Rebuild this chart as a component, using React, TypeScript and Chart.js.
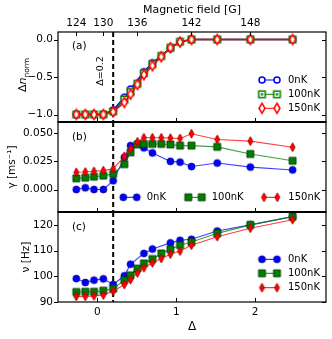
import React, { useEffect, useRef } from 'react';
import { Chart, registerables } from 'chart.js';

Chart.register(...registerables);

const FONT = 'DejaVu Sans';
const W = 332;
const H = 339;

// ---------- data ----------
// Δ positions of the measurements
const deltaAll = [-0.268, -0.154, -0.044, 0.075, 0.2, 0.342, 0.42, 0.507, 0.59, 0.698, 0.81, 0.926, 1.048, 1.193, 1.52, 1.94, 2.476];
const deltaBlue = [-0.268, -0.154, -0.044, 0.075, 0.2, 0.342, 0.42, 0.59, 0.698, 0.926, 1.048, 1.193, 1.52, 1.94, 2.476];

// top axis (magnetic field)
const fieldTickLabels = ['124', '130', '136', '142', '148'];
const fieldTickDelta = [-0.268, 0.075, 0.507, 1.193, 1.94];

// bottom axis (Δ)
const deltaTicks = [0, 1, 2];
const deltaTickLabels = ['0', '1', '2'];
const X_MIN = -0.5;
const X_MAX = 2.9;

const dashDelta = 0.2;
const dashLabel = 'Δ=0.2';
const seriesNames = ['0nK', '100nK', '150nK'];

// panel (a) Δn_norm
const dnBlue = [-1.0, -1.0, -1.0, -1.0, -0.94, -0.77, -0.66, -0.43, -0.31, -0.12, -0.03, 0, 0, 0, 0];
const dnGreen = [-1.0, -1.0, -1.0, -1.0, -0.96, -0.8, -0.7, -0.59, -0.45, -0.33, -0.22, -0.11, -0.03, 0, 0, 0, 0];
const dnRed = [-1.0, -1.0, -1.0, -1.0, -0.965, -0.84, -0.73, -0.6, -0.47, -0.35, -0.23, -0.11, -0.035, 0, 0, 0, 0];
const dnRedErr = [0.03, 0.03, 0.03, 0.03, 0.03, 0.03, 0.03, 0.03, 0.03, 0.03, 0.03, 0.03, 0.03, 0.03, 0.03, 0.03, 0.03];
const yTicksA = [-1.0, -0.5, 0.0];
const yTickLabelsA = ['−1.0', '−0.5', '0.0'];

// panel (b) γ
const gBlue = [0.0, 0.0015, 0.0, 0.0, 0.0078, 0.0285, 0.039, 0.037, 0.0325, 0.025, 0.0243, 0.0204, 0.0235, 0.0199, 0.0174];
const gGreen = [0.0099, 0.0105, 0.0114, 0.0123, 0.0138, 0.0225, 0.033, 0.04, 0.0405, 0.0405, 0.0405, 0.04, 0.039, 0.039, 0.0379, 0.0316, 0.0255];
const gRed = [0.0153, 0.0156, 0.0162, 0.0168, 0.0183, 0.0295, 0.036, 0.0424, 0.046, 0.046, 0.046, 0.0457, 0.0454, 0.0496, 0.0445, 0.043, 0.0376];
const gRedErr = [0.003, 0.003, 0.003, 0.003, 0.003, 0.003, 0.003, 0.003, 0.003, 0.003, 0.003, 0.003, 0.003, 0.003, 0.003, 0.003, 0.003];
const yTicksB = [0.0, 0.025, 0.05];
const yTickLabelsB = ['0.000', '0.025', '0.050'];

// panel (c) ν
const nuBlue = [99.1, 97.6, 98.5, 99.0, 96.8, 100.2, 104.7, 108.9, 110.6, 113.0, 114.0, 114.4, 117.6, 120.0, 123.2];
const nuGreen = [93.9, 94.0, 94.0, 94.4, 95.2, 98.5, 100.4, 103.0, 105.0, 106.7, 108.9, 110.5, 112.1, 113.3, 116.7, 120.0, 123.2];
const nuRed = [92.2, 92.2, 92.4, 92.7, 94.2, 96.8, 98.7, 101.3, 103.3, 105.2, 106.9, 108.6, 109.8, 112.1, 115.4, 118.7, 122.0];
const nuRedErr = [1.2, 1.2, 1.2, 1.2, 1.2, 1.2, 1.2, 1.2, 1.2, 1.2, 1.2, 1.2, 1.2, 1.2, 1.2, 1.2, 1.2];
const yTicksC = [90, 100, 110, 120];
const yTickLabelsC = ['90', '100', '110', '120'];

// ---------- helpers ----------
const pts = (xs: number[], ys: number[]) => xs.map((x, i) => ({ x, y: ys[i] }));

function markerCanvas(kind: string, w: number, h: number, fill: string, stroke: string, lw: number, inner?: string) {
  const pad = Math.ceil(lw) + 1;
  const cw = Math.ceil(w + 2 * pad);
  const ch = Math.ceil(h + 2 * pad);
  const c = document.createElement('canvas');
  c.width = cw;
  c.height = ch;
  const g = c.getContext('2d')!;
  const cx = cw / 2;
  const cy = ch / 2;
  g.beginPath();
  if (kind === 'circle') g.arc(cx, cy, w / 2, 0, Math.PI * 2);
  else if (kind === 'square') g.rect(cx - w / 2, cy - h / 2, w, h);
  else {
    g.moveTo(cx, cy - h / 2);
    g.lineTo(cx + w / 2, cy);
    g.lineTo(cx, cy + h / 2);
    g.lineTo(cx - w / 2, cy);
    g.closePath();
  }
  g.fillStyle = fill;
  g.fill();
  g.lineWidth = lw;
  g.strokeStyle = stroke;
  g.stroke();
  if (inner) {
    g.fillStyle = inner;
    g.fillRect(cx - 1.2, cy - 1.2, 2.4, 2.4);
  }
  return c;
}

type LegendItem = { img: HTMLCanvasElement; color: string; label: string; x1: number; x2: number; tx: number; y: number };
type TitlePart = { t: string; font: string; dy: number };

type PanelCfg = {
  label: string;
  labelX: number;
  labelY: number;
  yTicks: number[];
  topTicks?: number[];
  thickTop: boolean;
  thickBottom: boolean;
  errors: { xs: number[]; ys: number[]; err: number[]; color: string }[];
  legend: LegendItem[];
  dashText?: boolean;
  yTitle?: { parts: TitlePart[]; cx: number };
};

function decor(p: PanelCfg) {
  return {
    id: 'decor',
    beforeDatasetsDraw(chart: any) {
      const { ctx, chartArea: a, scales } = chart;
      const xs = scales.x;
      const ys = scales.y;
      ctx.save();
      const dx = xs.getPixelForValue(dashDelta);
      ctx.setLineDash([5, 3]);
      ctx.lineWidth = 2;
      ctx.strokeStyle = '#000';
      ctx.beginPath();
      ctx.moveTo(dx, a.top);
      ctx.lineTo(dx, a.bottom);
      ctx.stroke();
      ctx.setLineDash([]);
      p.errors.forEach((e) => {
        ctx.strokeStyle = e.color;
        ctx.lineWidth = 1;
        e.xs.forEach((xv, i) => {
          const px = xs.getPixelForValue(xv);
          ctx.beginPath();
          ctx.moveTo(px, ys.getPixelForValue(e.ys[i] - e.err[i]));
          ctx.lineTo(px, ys.getPixelForValue(e.ys[i] + e.err[i]));
          ctx.stroke();
        });
      });
      ctx.restore();
    },
    afterDraw(chart: any) {
      const { ctx, chartArea: a, scales } = chart;
      const xs = scales.x;
      const ys = scales.y;
      ctx.save();
      ctx.strokeStyle = '#000';
      ctx.lineWidth = 1.2;
      ctx.strokeRect(a.left, a.top, a.right - a.left, a.bottom - a.top);
      ctx.lineWidth = 2;
      if (p.thickTop) {
        ctx.beginPath();
        ctx.moveTo(a.left, a.top);
        ctx.lineTo(a.right, a.top);
        ctx.stroke();
      }
      if (p.thickBottom) {
        ctx.beginPath();
        ctx.moveTo(a.left, a.bottom);
        ctx.lineTo(a.right, a.bottom);
        ctx.stroke();
      }
      const tl = 4;
      ctx.lineWidth = 1;
      p.yTicks.forEach((v) => {
        const py = Math.round(ys.getPixelForValue(v)) + 0.5;
        ctx.beginPath();
        ctx.moveTo(a.left - tl, py);
        ctx.lineTo(a.left, py);
        ctx.moveTo(a.right - tl, py);
        ctx.lineTo(a.right, py);
        ctx.stroke();
      });
      deltaTicks.forEach((v) => {
        const px = Math.round(xs.getPixelForValue(v)) + 0.5;
        ctx.beginPath();
        ctx.moveTo(px, a.bottom - tl);
        ctx.lineTo(px, a.bottom);
        ctx.stroke();
      });
      (p.topTicks || []).forEach((v) => {
        const px = Math.round(xs.getPixelForValue(v)) + 0.5;
        ctx.beginPath();
        ctx.moveTo(px, a.top);
        ctx.lineTo(px, a.top + tl);
        ctx.stroke();
      });
      ctx.fillStyle = '#000';
      ctx.font = `10.5px "${FONT}"`;
      ctx.textAlign = 'left';
      ctx.textBaseline = 'middle';
      ctx.fillText(p.label, p.labelX, p.labelY);
      ctx.font = `10px "${FONT}"`;
      p.legend.forEach((it) => {
        ctx.strokeStyle = it.color;
        ctx.lineWidth = 1;
        ctx.beginPath();
        ctx.moveTo(it.x1, it.y);
        ctx.lineTo(it.x2, it.y);
        ctx.stroke();
        [it.x1, it.x2].forEach((mx) => ctx.drawImage(it.img, mx - it.img.width / 2, it.y - it.img.height / 2));
        ctx.fillStyle = '#000';
        ctx.fillText(it.label, it.tx, it.y);
      });
      if (p.yTitle) {
        ctx.save();
        ctx.translate(p.yTitle.cx, (a.top + a.bottom) / 2 - 2);
        ctx.rotate(-Math.PI / 2);
        ctx.textBaseline = 'alphabetic';
        ctx.textAlign = 'left';
        let total = 0;
        p.yTitle.parts.forEach((pt) => {
          ctx.font = pt.font;
          total += ctx.measureText(pt.t).width;
        });
        let x = -total / 2;
        p.yTitle.parts.forEach((pt) => {
          ctx.font = pt.font;
          ctx.fillText(pt.t, x, 4 + pt.dy);
          x += ctx.measureText(pt.t).width;
        });
        ctx.restore();
      }
      if (p.dashText) {
        const dx = xs.getPixelForValue(dashDelta);
        ctx.translate(dx - 12.5, 71);
        ctx.rotate(-Math.PI / 2);
        ctx.textAlign = 'center';
        ctx.font = `9.5px "${FONT}"`;
        ctx.fillText(dashLabel, 0, 0);
      }
      ctx.restore();
    },
  };
}

function yScale(min: number, max: number, ticks: number[], labels: string[], title: string, titlePad: number) {
  return {
    type: 'linear',
    position: 'left',
    min,
    max,
    afterFit: (s: any) => {
      s.width = 58;
    },
    afterBuildTicks: (s: any) => {
      s.ticks = ticks.map((v) => ({ value: v }));
    },
    ticks: {
      autoSkip: false,
      padding: 5,
      color: '#000',
      font: { family: FONT, size: 10.5 },
      callback: (_v: any, i: number) => labels[i],
    },
    grid: { display: false, drawTicks: false },
    border: { display: false },
    title: {
      display: title !== '',
      text: title,
      color: '#000',
      font: { family: FONT, size: 10.5 },
      padding: { top: titlePad, bottom: 0 },
    },
  };
}

const hiddenX = { type: 'linear', position: 'bottom', min: X_MIN, max: X_MAX, display: false };

export default function App() {
  const refA = useRef<HTMLCanvasElement>(null);
  const refB = useRef<HTMLCanvasElement>(null);
  const refC = useRef<HTMLCanvasElement>(null);

  useEffect(() => {
    const blue = '#0000ff';
    const green = '#008000';
    const red = '#ff0000';
    const blueLine = 'rgba(0,0,255,0.75)';
    const greenLine = 'rgba(0,128,0,0.75)';
    const redLine = 'rgba(255,0,0,0.75)';

    const mA = [
      markerCanvas('circle', 6, 6, '#fff', blue, 1.5),
      markerCanvas('square', 6.5, 6.5, '#fff', green, 1.5, green),
      markerCanvas('diamond', 6, 10, '#fff', red, 1.5),
    ];
    const mF = [
      markerCanvas('circle', 7, 7, blue, '#0000a0', 0.8),
      markerCanvas('square', 7, 7, green, '#003300', 0.8),
      markerCanvas('diamond', 5, 9, red, '#990000', 0.8),
    ];

    const ds = (xs: number[], ys: number[], img: HTMLCanvasElement, line: string, lw: number, order: number) => ({
      data: pts(xs, ys),
      borderColor: line,
      borderWidth: lw,
      pointStyle: img,
      pointRadius: 4,
      tension: 0,
      order,
      xAxisID: 'x',
      yAxisID: 'y',
      clip: false,
    });

    const base = (padTop: number, padBottom: number) => ({
      animation: false,
      responsive: false,
      devicePixelRatio: 1,
      events: [],
      layout: { padding: { left: 0, right: 6, top: padTop, bottom: padBottom } },
      plugins: { legend: { display: false }, tooltip: { enabled: false } },
    });

    const legendRowsA = [80, 94.3, 108.3];
    const legendRowsC = [259.3, 273.3, 287.7];
    const legendColsB = [
      [123.3, 136.7, 146.7],
      [188.3, 201.7, 211.7],
      [264, 277.3, 288.3],
    ];
    const lines = [blue, green, red];

    const chartA = new Chart(refA.current!, {
      type: 'line',
      data: {
        datasets: [
          ds(deltaBlue, dnBlue, mA[0], blue, 1.5, 3),
          ds(deltaAll, dnGreen, mA[1], green, 1.5, 2),
          ds(deltaAll, dnRed, mA[2], red, 1.5, 1),
        ],
      },
      options: {
        ...base(0, H - 122),
        scales: {
          x: hiddenX,
          xTop: {
            type: 'linear',
            axis: 'x',
            position: 'top',
            min: X_MIN,
            max: X_MAX,
            afterFit: (s: any) => {
              s.height = 32;
            },
            afterBuildTicks: (s: any) => {
              s.ticks = fieldTickDelta.map((v) => ({ value: v }));
            },
            ticks: {
              autoSkip: false,
              maxRotation: 0,
              padding: 2.5,
              color: '#000',
              font: { family: FONT, size: 10.5 },
              callback: (_v: any, i: number) => fieldTickLabels[i],
            },
            grid: { display: false, drawTicks: false },
            border: { display: false },
            title: {
              display: true,
              text: 'Magnetic field [G]',
              color: '#000',
              font: { family: FONT, size: 11 },
              padding: { top: 3.4, bottom: 0 },
            },
          },
          y: yScale(-1.1, 0.1, yTicksA, yTickLabelsA, '', 0),
        },
      } as any,
      plugins: [
        decor({
          label: '(a)',
          labelX: 72,
          labelY: 46,
          yTicks: yTicksA,
          topTicks: fieldTickDelta,
          thickTop: false,
          thickBottom: true,
          errors: [{ xs: deltaAll, ys: dnRed, err: dnRedErr, color: red }],
          legend: seriesNames.map((n, i) => ({ img: mA[i], color: lines[i], label: n, x1: 262, x2: 277, tx: 288, y: legendRowsA[i] })),
          dashText: true,
          yTitle: {
            cx: 22,
            parts: [
              { t: 'Δ', font: `11px "${FONT}"`, dy: 0 },
              { t: 'n', font: `italic 11px "${FONT}"`, dy: 0 },
              { t: 'norm', font: `7.5px "${FONT}"`, dy: 3 },
            ],
          },
        }),
      ],
    } as any);

    const chartB = new Chart(refB.current!, {
      type: 'line',
      data: {
        datasets: [
          ds(deltaBlue, gBlue, mF[0], blueLine, 1.1, 3),
          ds(deltaAll, gGreen, mF[1], greenLine, 1.1, 2),
          ds(deltaAll, gRed, mF[2], redLine, 1.1, 1),
        ],
      },
      options: {
        ...base(122, H - 212),
        scales: {
          x: hiddenX,
          y: yScale(-0.02, 0.06, yTicksB, yTickLabelsB, 'γ [ms⁻¹]', 6.2),
        },
      } as any,
      plugins: [
        decor({
          label: '(b)',
          labelX: 72,
          labelY: 137,
          yTicks: yTicksB,
          thickTop: true,
          thickBottom: true,
          errors: [{ xs: deltaAll, ys: gRed, err: gRedErr, color: red }],
          legend: seriesNames.map((n, i) => ({ img: mF[i], color: lines[i], label: n, x1: legendColsB[i][0], x2: legendColsB[i][1], tx: legendColsB[i][2], y: 197.3 })),
        }),
      ],
    } as any);

    const chartC = new Chart(refC.current!, {
      type: 'line',
      data: {
        datasets: [
          ds(deltaBlue, nuBlue, mF[0], blueLine, 1.1, 3),
          ds(deltaAll, nuGreen, mF[1], greenLine, 1.1, 2),
          ds(deltaAll, nuRed, mF[2], redLine, 1.1, 1),
        ],
      },
      options: {
        ...base(212, 0),
        scales: {
          x: {
            type: 'linear',
            position: 'bottom',
            min: X_MIN,
            max: X_MAX,
            afterFit: (s: any) => {
              s.height = H - 302;
            },
            afterBuildTicks: (s: any) => {
              s.ticks = deltaTicks.map((v) => ({ value: v }));
            },
            ticks: {
              autoSkip: false,
              maxRotation: 0,
              padding: 3.7,
              color: '#000',
              font: { family: FONT, size: 10.5 },
              callback: (_v: any, i: number) => deltaTickLabels[i],
            },
            grid: { display: false, drawTicks: false },
            border: { display: false },
            title: {
              display: true,
              text: 'Δ',
              color: '#000',
              font: { family: FONT, size: 12 },
              padding: { top: 0, bottom: 5 },
            },
          },
          y: yScale(90, 125, yTicksC, yTickLabelsC, 'ν [Hz]', 19.7),
        },
      } as any,
      plugins: [
        decor({
          label: '(c)',
          labelX: 72,
          labelY: 227,
          yTicks: yTicksC,
          thickTop: true,
          thickBottom: false,
          errors: [{ xs: deltaAll, ys: nuRed, err: nuRedErr, color: red }],
          legend: seriesNames.map((n, i) => ({ img: mF[i], color: lines[i], label: n, x1: 262, x2: 277, tx: 288, y: legendRowsC[i] })),
        }),
      ],
    } as any);

    return () => {
      chartA.destroy();
      chartB.destroy();
      chartC.destroy();
    };
  }, []);

  const cs: React.CSSProperties = { position: 'absolute', left: 0, top: 0, width: W, height: H };
  return (
    <div style={{ position: 'absolute', left: 0, top: 0, width: W, height: H, background: '#fff', overflow: 'hidden' }}>
      <canvas ref={refA} width={W} height={H} style={cs} />
      <canvas ref={refB} width={W} height={H} style={cs} />
      <canvas ref={refC} width={W} height={H} style={cs} />
    </div>
  );
}
